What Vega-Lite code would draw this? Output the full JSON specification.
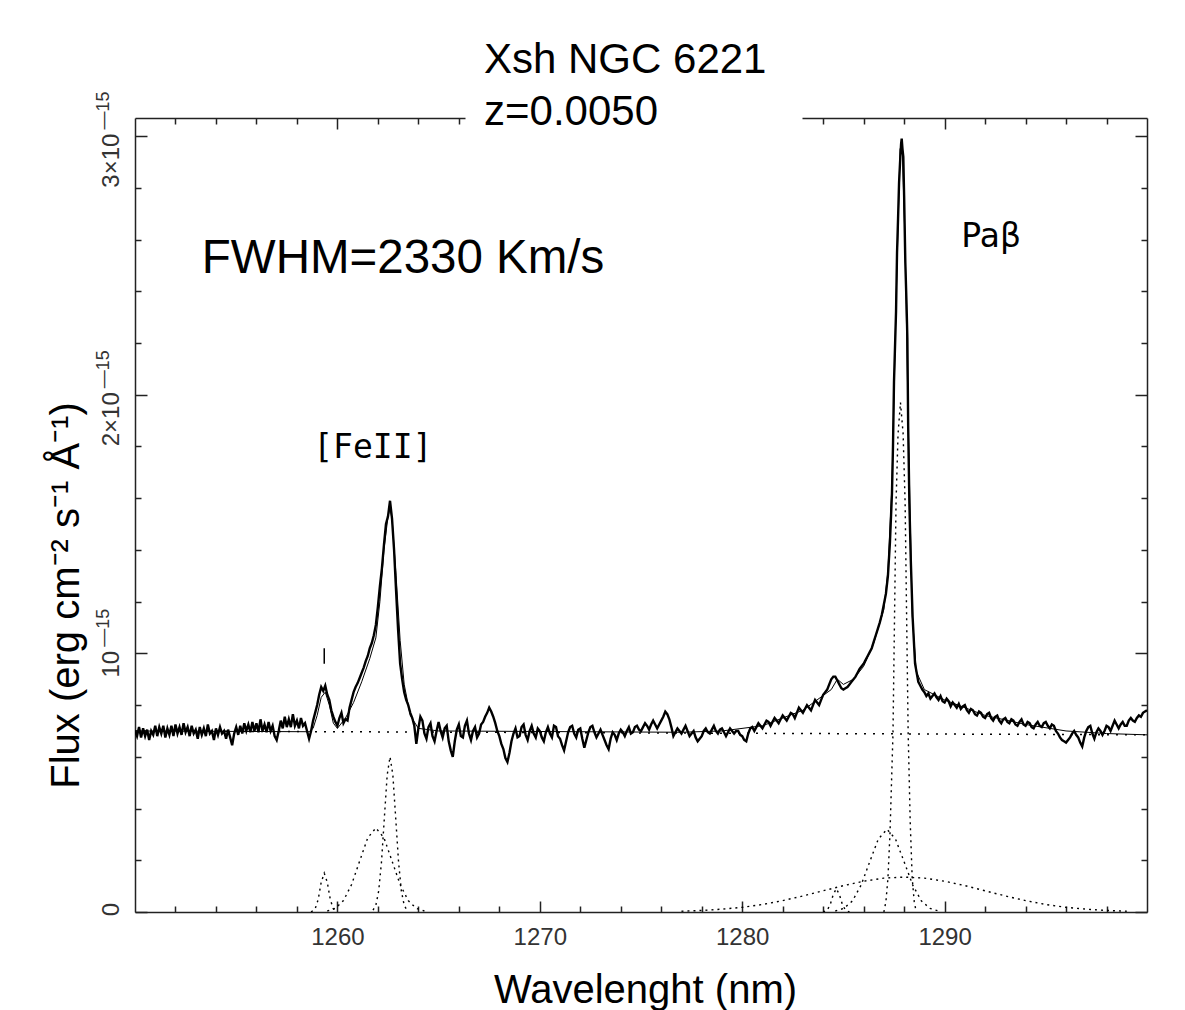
{
  "$schema": "https://vega.github.io/schema/vega-lite/v6.json",
  "width": 1012,
  "height": 794,
  "autosize": {"type": "none"},
  "padding": {"left": 135, "top": 118, "right": 38, "bottom": 98},
  "background": "white",
  "title": {"text": ["Xsh NGC 6221", "z=0.0050"], "anchor": "start", "frame": "group", "dx": 349, "dy": 43, "offset": 0, "font": "Liberation Sans", "fontSize": 42, "fontWeight": "normal", "color": "black", "lineHeight": 52},
  "config": {
    "view": {"stroke": null},
    "axis": {"grid": false, "domainColor": "#222", "tickColor": "#222", "domainWidth": 1.5, "tickWidth": 1.5, "labelFont": "Liberation Sans", "labelFontSize": 24, "labelColor": "#333", "labelFlush": false, "labelOverlap": false, "labelBound": false}
  },
  "datasets": {
    "spectrum": [
      {"w":1250.0,"f":0.70},{"w":1250.1,"f":0.68},{"w":1250.2,"f":0.715},{"w":1250.3,"f":0.675},{"w":1250.4,"f":0.71},{"w":1250.5,"f":0.68},{"w":1250.6,"f":0.705},{"w":1250.7,"f":0.665},{"w":1250.8,"f":0.70},{"w":1250.9,"f":0.685},
      {"w":1251.0,"f":0.72},{"w":1251.1,"f":0.68},{"w":1251.2,"f":0.715},{"w":1251.3,"f":0.69},{"w":1251.4,"f":0.72},{"w":1251.5,"f":0.675},{"w":1251.6,"f":0.71},{"w":1251.7,"f":0.685},{"w":1251.8,"f":0.72},{"w":1251.9,"f":0.68},
      {"w":1252.0,"f":0.725},{"w":1252.1,"f":0.69},{"w":1252.2,"f":0.715},{"w":1252.3,"f":0.685},{"w":1252.4,"f":0.73},{"w":1252.5,"f":0.695},{"w":1252.6,"f":0.715},{"w":1252.7,"f":0.68},{"w":1252.8,"f":0.72},{"w":1252.9,"f":0.69},
      {"w":1253.0,"f":0.705},{"w":1253.1,"f":0.67},{"w":1253.2,"f":0.715},{"w":1253.3,"f":0.685},{"w":1253.4,"f":0.71},{"w":1253.5,"f":0.68},{"w":1253.6,"f":0.725},{"w":1253.7,"f":0.69},{"w":1253.8,"f":0.70},{"w":1253.9,"f":0.665},
      {"w":1254.0,"f":0.71},{"w":1254.1,"f":0.685},{"w":1254.2,"f":0.715},{"w":1254.3,"f":0.69},{"w":1254.4,"f":0.70},{"w":1254.5,"f":0.67},{"w":1254.6,"f":0.705},{"w":1254.7,"f":0.675},{"w":1254.8,"f":0.645},{"w":1254.9,"f":0.69},
      {"w":1255.0,"f":0.715},{"w":1255.1,"f":0.685},{"w":1255.2,"f":0.72},{"w":1255.3,"f":0.69},{"w":1255.4,"f":0.73},{"w":1255.5,"f":0.70},{"w":1255.6,"f":0.725},{"w":1255.7,"f":0.695},{"w":1255.8,"f":0.735},{"w":1255.9,"f":0.70},
      {"w":1256.0,"f":0.73},{"w":1256.1,"f":0.695},{"w":1256.2,"f":0.745},{"w":1256.3,"f":0.70},{"w":1256.4,"f":0.725},{"w":1256.5,"f":0.695},{"w":1256.6,"f":0.735},{"w":1256.7,"f":0.70},{"w":1256.8,"f":0.72},{"w":1256.9,"f":0.68},
      {"w":1257.0,"f":0.665},{"w":1257.1,"f":0.70},{"w":1257.2,"f":0.74},{"w":1257.3,"f":0.71},{"w":1257.4,"f":0.755},{"w":1257.5,"f":0.715},{"w":1257.6,"f":0.745},{"w":1257.7,"f":0.715},{"w":1257.8,"f":0.765},{"w":1257.9,"f":0.72},
      {"w":1258.0,"f":0.74},{"w":1258.1,"f":0.71},{"w":1258.2,"f":0.75},{"w":1258.3,"f":0.72},{"w":1258.4,"f":0.73},{"w":1258.5,"f":0.70},{"w":1258.6,"f":0.67},{"w":1258.7,"f":0.70},{"w":1258.8,"f":0.74},{"w":1258.9,"f":0.77},
      {"w":1259.0,"f":0.80},{"w":1259.1,"f":0.84},{"w":1259.2,"f":0.87},{"w":1259.3,"f":0.855},{"w":1259.4,"f":0.875},{"w":1259.5,"f":0.84},{"w":1259.6,"f":0.82},{"w":1259.7,"f":0.78},{"w":1259.8,"f":0.755},{"w":1259.9,"f":0.735},
      {"w":1260.0,"f":0.72},{"w":1260.1,"f":0.75},{"w":1260.2,"f":0.77},{"w":1260.3,"f":0.73},{"w":1260.4,"f":0.745},{"w":1260.5,"f":0.74},{"w":1260.6,"f":0.79},{"w":1260.7,"f":0.82},{"w":1260.8,"f":0.85},{"w":1260.9,"f":0.87},
      {"w":1261.0,"f":0.885},{"w":1261.1,"f":0.905},{"w":1261.2,"f":0.925},{"w":1261.3,"f":0.945},{"w":1261.4,"f":0.97},{"w":1261.5,"f":0.99},{"w":1261.6,"f":1.02},{"w":1261.7,"f":1.04},{"w":1261.8,"f":1.07},{"w":1261.9,"f":1.11},
      {"w":1262.0,"f":1.18},{"w":1262.1,"f":1.26},{"w":1262.2,"f":1.33},{"w":1262.3,"f":1.42},{"w":1262.4,"f":1.50},{"w":1262.5,"f":1.53},{"w":1262.6,"f":1.59},{"w":1262.7,"f":1.52},{"w":1262.8,"f":1.40},{"w":1262.9,"f":1.24},
      {"w":1263.0,"f":1.09},{"w":1263.1,"f":0.96},{"w":1263.2,"f":0.90},{"w":1263.3,"f":0.85},{"w":1263.4,"f":0.82},{"w":1263.5,"f":0.80},{"w":1263.6,"f":0.77},{"w":1263.7,"f":0.75},{"w":1263.8,"f":0.72},{"w":1263.9,"f":0.65},
      {"w":1264.0,"f":0.71},{"w":1264.1,"f":0.755},{"w":1264.2,"f":0.74},{"w":1264.3,"f":0.69},{"w":1264.4,"f":0.67},{"w":1264.5,"f":0.715},{"w":1264.6,"f":0.73},{"w":1264.7,"f":0.68},{"w":1264.8,"f":0.66},{"w":1264.9,"f":0.70},
      {"w":1265.0,"f":0.735},{"w":1265.1,"f":0.70},{"w":1265.2,"f":0.675},{"w":1265.3,"f":0.71},{"w":1265.4,"f":0.72},{"w":1265.5,"f":0.66},{"w":1265.6,"f":0.625},{"w":1265.7,"f":0.60},{"w":1265.8,"f":0.66},{"w":1265.9,"f":0.705},
      {"w":1266.0,"f":0.725},{"w":1266.1,"f":0.68},{"w":1266.2,"f":0.675},{"w":1266.3,"f":0.72},{"w":1266.4,"f":0.74},{"w":1266.5,"f":0.69},{"w":1266.6,"f":0.665},{"w":1266.7,"f":0.70},{"w":1266.8,"f":0.715},{"w":1266.9,"f":0.675},
      {"w":1267.0,"f":0.69},{"w":1267.1,"f":0.725},{"w":1267.2,"f":0.735},{"w":1267.3,"f":0.755},{"w":1267.4,"f":0.77},{"w":1267.5,"f":0.79},{"w":1267.6,"f":0.775},{"w":1267.7,"f":0.755},{"w":1267.8,"f":0.73},{"w":1267.9,"f":0.70},
      {"w":1268.0,"f":0.68},{"w":1268.1,"f":0.65},{"w":1268.2,"f":0.63},{"w":1268.3,"f":0.595},{"w":1268.4,"f":0.58},{"w":1268.5,"f":0.615},{"w":1268.6,"f":0.66},{"w":1268.7,"f":0.69},{"w":1268.8,"f":0.71},{"w":1268.9,"f":0.675},
      {"w":1269.0,"f":0.68},{"w":1269.1,"f":0.715},{"w":1269.2,"f":0.725},{"w":1269.3,"f":0.685},{"w":1269.4,"f":0.665},{"w":1269.5,"f":0.70},{"w":1269.6,"f":0.72},{"w":1269.7,"f":0.69},{"w":1269.8,"f":0.675},{"w":1269.9,"f":0.71},
      {"w":1270.0,"f":0.70},{"w":1270.1,"f":0.675},{"w":1270.2,"f":0.66},{"w":1270.3,"f":0.695},{"w":1270.4,"f":0.715},{"w":1270.5,"f":0.69},{"w":1270.6,"f":0.675},{"w":1270.7,"f":0.72},{"w":1270.8,"f":0.715},{"w":1270.9,"f":0.68},
      {"w":1271.0,"f":0.67},{"w":1271.1,"f":0.645},{"w":1271.2,"f":0.625},{"w":1271.3,"f":0.66},{"w":1271.4,"f":0.695},{"w":1271.5,"f":0.715},{"w":1271.6,"f":0.72},{"w":1271.7,"f":0.69},{"w":1271.8,"f":0.675},{"w":1271.9,"f":0.705},
      {"w":1272.0,"f":0.71},{"w":1272.1,"f":0.67},{"w":1272.2,"f":0.635},{"w":1272.3,"f":0.665},{"w":1272.4,"f":0.695},{"w":1272.5,"f":0.715},{"w":1272.6,"f":0.72},{"w":1272.7,"f":0.695},{"w":1272.8,"f":0.675},{"w":1272.9,"f":0.69},
      {"w":1273.0,"f":0.705},{"w":1273.1,"f":0.685},{"w":1273.2,"f":0.665},{"w":1273.3,"f":0.645},{"w":1273.4,"f":0.63},{"w":1273.5,"f":0.67},{"w":1273.6,"f":0.695},{"w":1273.7,"f":0.685},{"w":1273.8,"f":0.665},{"w":1273.9,"f":0.69},
      {"w":1274.0,"f":0.705},{"w":1274.1,"f":0.695},{"w":1274.2,"f":0.68},{"w":1274.3,"f":0.70},{"w":1274.4,"f":0.715},{"w":1274.5,"f":0.69},{"w":1274.6,"f":0.695},{"w":1274.7,"f":0.715},{"w":1274.8,"f":0.72},{"w":1274.9,"f":0.705},
      {"w":1275.0,"f":0.70},{"w":1275.1,"f":0.715},{"w":1275.2,"f":0.73},{"w":1275.3,"f":0.72},{"w":1275.4,"f":0.705},{"w":1275.5,"f":0.725},{"w":1275.6,"f":0.74},{"w":1275.7,"f":0.725},{"w":1275.8,"f":0.71},{"w":1275.9,"f":0.725},
      {"w":1276.0,"f":0.74},{"w":1276.1,"f":0.755},{"w":1276.2,"f":0.775},{"w":1276.3,"f":0.765},{"w":1276.4,"f":0.745},{"w":1276.5,"f":0.715},{"w":1276.6,"f":0.68},{"w":1276.7,"f":0.695},{"w":1276.8,"f":0.71},{"w":1276.9,"f":0.70},
      {"w":1277.0,"f":0.69},{"w":1277.1,"f":0.705},{"w":1277.2,"f":0.72},{"w":1277.3,"f":0.70},{"w":1277.4,"f":0.68},{"w":1277.5,"f":0.69},{"w":1277.6,"f":0.70},{"w":1277.7,"f":0.675},{"w":1277.8,"f":0.66},{"w":1277.9,"f":0.67},
      {"w":1278.0,"f":0.68},{"w":1278.1,"f":0.70},{"w":1278.2,"f":0.71},{"w":1278.3,"f":0.695},{"w":1278.4,"f":0.69},{"w":1278.5,"f":0.705},{"w":1278.6,"f":0.72},{"w":1278.7,"f":0.70},{"w":1278.8,"f":0.69},{"w":1278.9,"f":0.705},
      {"w":1279.0,"f":0.71},{"w":1279.1,"f":0.695},{"w":1279.2,"f":0.68},{"w":1279.3,"f":0.695},{"w":1279.4,"f":0.71},{"w":1279.5,"f":0.70},{"w":1279.6,"f":0.69},{"w":1279.7,"f":0.70},{"w":1279.8,"f":0.70},{"w":1279.9,"f":0.685},
      {"w":1280.0,"f":0.68},{"w":1280.1,"f":0.665},{"w":1280.2,"f":0.66},{"w":1280.3,"f":0.69},{"w":1280.4,"f":0.71},{"w":1280.5,"f":0.715},{"w":1280.6,"f":0.70},{"w":1280.7,"f":0.715},{"w":1280.8,"f":0.73},{"w":1280.9,"f":0.72},
      {"w":1281.0,"f":0.71},{"w":1281.1,"f":0.725},{"w":1281.2,"f":0.74},{"w":1281.3,"f":0.735},{"w":1281.4,"f":0.72},{"w":1281.5,"f":0.735},{"w":1281.6,"f":0.75},{"w":1281.7,"f":0.74},{"w":1281.8,"f":0.73},{"w":1281.9,"f":0.745},
      {"w":1282.0,"f":0.76},{"w":1282.1,"f":0.75},{"w":1282.2,"f":0.74},{"w":1282.3,"f":0.755},{"w":1282.4,"f":0.77},{"w":1282.5,"f":0.765},{"w":1282.6,"f":0.75},{"w":1282.7,"f":0.77},{"w":1282.8,"f":0.79},{"w":1282.9,"f":0.78},
      {"w":1283.0,"f":0.77},{"w":1283.1,"f":0.785},{"w":1283.2,"f":0.80},{"w":1283.3,"f":0.79},{"w":1283.4,"f":0.78},{"w":1283.5,"f":0.80},{"w":1283.6,"f":0.82},{"w":1283.7,"f":0.81},{"w":1283.8,"f":0.80},{"w":1283.9,"f":0.82},
      {"w":1284.0,"f":0.84},{"w":1284.1,"f":0.85},{"w":1284.2,"f":0.86},{"w":1284.3,"f":0.88},{"w":1284.4,"f":0.90},{"w":1284.5,"f":0.91},{"w":1284.6,"f":0.91},{"w":1284.7,"f":0.895},{"w":1284.8,"f":0.88},{"w":1284.9,"f":0.865},
      {"w":1285.0,"f":0.86},{"w":1285.1,"f":0.865},{"w":1285.2,"f":0.87},{"w":1285.3,"f":0.88},{"w":1285.4,"f":0.89},{"w":1285.5,"f":0.90},{"w":1285.6,"f":0.91},{"w":1285.7,"f":0.925},{"w":1285.8,"f":0.94},{"w":1285.9,"f":0.95},
      {"w":1286.0,"f":0.96},{"w":1286.1,"f":0.975},{"w":1286.2,"f":0.99},{"w":1286.3,"f":1.005},{"w":1286.4,"f":1.02},{"w":1286.5,"f":1.045},{"w":1286.6,"f":1.07},{"w":1286.7,"f":1.095},{"w":1286.8,"f":1.12},{"w":1286.9,"f":1.15},
      {"w":1287.0,"f":1.19},{"w":1287.1,"f":1.23},{"w":1287.2,"f":1.30},{"w":1287.3,"f":1.43},{"w":1287.4,"f":1.62},
      {"w":1287.45,"f":1.80},{"w":1287.5,"f":2.05},{"w":1287.6,"f":2.32},{"w":1287.65,"f":2.55},{"w":1287.7,"f":2.68},
      {"w":1287.75,"f":2.82},{"w":1287.8,"f":2.90},{"w":1287.85,"f":2.97},{"w":1287.88,"f":2.99},{"w":1287.92,"f":2.95},
      {"w":1287.96,"f":2.92},{"w":1288.0,"f":2.77},{"w":1288.06,"f":2.51},{"w":1288.12,"f":2.35},{"w":1288.16,"f":2.22},
      {"w":1288.2,"f":1.88},{"w":1288.26,"f":1.58},{"w":1288.33,"f":1.36},{"w":1288.42,"f":1.14},{"w":1288.54,"f":0.96},
      {"w":1288.7,"f":0.89},{"w":1288.8,"f":0.875},{"w":1288.9,"f":0.86},
      {"w":1289.0,"f":0.85},{"w":1289.1,"f":0.835},{"w":1289.2,"f":0.845},{"w":1289.3,"f":0.825},{"w":1289.4,"f":0.835},{"w":1289.5,"f":0.845},{"w":1289.6,"f":0.83},{"w":1289.7,"f":0.82},{"w":1289.8,"f":0.835},{"w":1289.9,"f":0.815},
      {"w":1290.0,"f":0.81},{"w":1290.1,"f":0.825},{"w":1290.2,"f":0.815},{"w":1290.3,"f":0.795},{"w":1290.4,"f":0.81},{"w":1290.5,"f":0.80},{"w":1290.6,"f":0.79},{"w":1290.7,"f":0.805},{"w":1290.8,"f":0.785},{"w":1290.9,"f":0.795},
      {"w":1291.0,"f":0.80},{"w":1291.1,"f":0.78},{"w":1291.2,"f":0.77},{"w":1291.3,"f":0.785},{"w":1291.4,"f":0.78},{"w":1291.5,"f":0.765},{"w":1291.6,"f":0.76},{"w":1291.7,"f":0.775},{"w":1291.8,"f":0.77},{"w":1291.9,"f":0.755},
      {"w":1292.0,"f":0.75},{"w":1292.1,"f":0.765},{"w":1292.2,"f":0.77},{"w":1292.3,"f":0.75},{"w":1292.4,"f":0.74},{"w":1292.5,"f":0.755},{"w":1292.6,"f":0.76},{"w":1292.7,"f":0.74},{"w":1292.8,"f":0.73},{"w":1292.9,"f":0.745},
      {"w":1293.0,"f":0.75},{"w":1293.1,"f":0.735},{"w":1293.2,"f":0.73},{"w":1293.3,"f":0.745},{"w":1293.4,"f":0.74},{"w":1293.5,"f":0.725},{"w":1293.6,"f":0.72},{"w":1293.7,"f":0.735},{"w":1293.8,"f":0.745},{"w":1293.9,"f":0.725},
      {"w":1294.0,"f":0.72},{"w":1294.1,"f":0.735},{"w":1294.2,"f":0.73},{"w":1294.3,"f":0.715},{"w":1294.4,"f":0.71},{"w":1294.5,"f":0.725},{"w":1294.6,"f":0.735},{"w":1294.7,"f":0.72},{"w":1294.8,"f":0.715},{"w":1294.9,"f":0.73},
      {"w":1295.0,"f":0.735},{"w":1295.1,"f":0.72},{"w":1295.2,"f":0.71},{"w":1295.3,"f":0.725},{"w":1295.4,"f":0.72},{"w":1295.5,"f":0.70},{"w":1295.6,"f":0.69},{"w":1295.7,"f":0.675},{"w":1295.8,"f":0.665},{"w":1295.9,"f":0.66},
      {"w":1296.0,"f":0.655},{"w":1296.1,"f":0.665},{"w":1296.2,"f":0.675},{"w":1296.3,"f":0.69},{"w":1296.4,"f":0.70},{"w":1296.5,"f":0.685},{"w":1296.6,"f":0.675},{"w":1296.7,"f":0.655},{"w":1296.8,"f":0.64},{"w":1296.9,"f":0.675},
      {"w":1297.0,"f":0.70},{"w":1297.1,"f":0.715},{"w":1297.2,"f":0.72},{"w":1297.3,"f":0.69},{"w":1297.4,"f":0.67},{"w":1297.5,"f":0.695},{"w":1297.6,"f":0.71},{"w":1297.7,"f":0.70},{"w":1297.8,"f":0.685},{"w":1297.9,"f":0.70},
      {"w":1298.0,"f":0.72},{"w":1298.1,"f":0.715},{"w":1298.2,"f":0.70},{"w":1298.3,"f":0.72},{"w":1298.4,"f":0.74},{"w":1298.5,"f":0.725},{"w":1298.6,"f":0.71},{"w":1298.7,"f":0.725},{"w":1298.8,"f":0.735},{"w":1298.9,"f":0.72},
      {"w":1299.0,"f":0.72},{"w":1299.1,"f":0.74},{"w":1299.2,"f":0.75},{"w":1299.3,"f":0.74},{"w":1299.4,"f":0.735},{"w":1299.5,"f":0.75},{"w":1299.6,"f":0.76},{"w":1299.7,"f":0.755},{"w":1299.8,"f":0.77},{"w":1299.9,"f":0.775},
      {"w":1300.0,"f":0.78}
    ],
    "model": [
      {"w":1250.0,"f":0.70},{"w":1258.6,"f":0.697},{"w":1258.8,"f":0.71},{"w":1259.0,"f":0.76},{"w":1259.2,"f":0.83},
      {"w":1259.4,"f":0.85},{"w":1259.6,"f":0.80},{"w":1259.8,"f":0.73},{"w":1260.0,"f":0.71},{"w":1260.4,"f":0.75},
      {"w":1260.8,"f":0.81},{"w":1261.2,"f":0.89},{"w":1261.6,"f":0.98},{"w":1261.9,"f":1.06},{"w":1262.1,"f":1.20},
      {"w":1262.3,"f":1.40},{"w":1262.5,"f":1.53},{"w":1262.6,"f":1.56},{"w":1262.7,"f":1.52},{"w":1262.9,"f":1.30},
      {"w":1263.1,"f":1.05},{"w":1263.3,"f":0.88},{"w":1263.6,"f":0.76},{"w":1264.0,"f":0.71},{"w":1265.0,"f":0.70},
      {"w":1277.0,"f":0.695},{"w":1279.0,"f":0.70},{"w":1281.0,"f":0.72},{"w":1283.0,"f":0.78},{"w":1284.4,"f":0.86},
      {"w":1284.7,"f":0.90},{"w":1285.0,"f":0.88},{"w":1285.5,"f":0.90},{"w":1286.0,"f":0.95},{"w":1286.5,"f":1.04},
      {"w":1287.0,"f":1.17},{"w":1287.2,"f":1.32},{"w":1287.4,"f":1.65},{"w":1287.6,"f":2.35},{"w":1287.8,"f":2.95},
      {"w":1287.9,"f":2.97},{"w":1288.05,"f":2.58},{"w":1288.2,"f":1.90},{"w":1288.4,"f":1.15},{"w":1288.6,"f":0.93},
      {"w":1289.0,"f":0.86},{"w":1290.0,"f":0.82},{"w":1292.0,"f":0.76},{"w":1294.0,"f":0.725},{"w":1296.0,"f":0.70},
      {"w":1298.0,"f":0.69},{"w":1300.0,"f":0.685}
    ],
    "continuum": [
      {"w":1250.0,"f":0.70},{"w":1300.0,"f":0.685}
    ],
    "components": [
      {"c":"FeII-a","w":1258.7,"f":0.0},{"c":"FeII-a","w":1258.9,"f":0.012},{"c":"FeII-a","w":1259.05,"f":0.048},{"c":"FeII-a","w":1259.2,"f":0.115},{"c":"FeII-a","w":1259.35,"f":0.15},{"c":"FeII-a","w":1259.5,"f":0.115},{"c":"FeII-a","w":1259.65,"f":0.048},{"c":"FeII-a","w":1259.8,"f":0.012},{"c":"FeII-a","w":1260.0,"f":0.0},
      {"c":"FeII-b","w":1259.5,"f":0.004},{"c":"FeII-b","w":1259.9,"f":0.014},{"c":"FeII-b","w":1260.3,"f":0.044},{"c":"FeII-b","w":1260.7,"f":0.106},{"c":"FeII-b","w":1261.1,"f":0.197},{"c":"FeII-b","w":1261.5,"f":0.287},{"c":"FeII-b","w":1261.9,"f":0.325},{"c":"FeII-b","w":1262.3,"f":0.287},{"c":"FeII-b","w":1262.7,"f":0.197},{"c":"FeII-b","w":1263.1,"f":0.106},{"c":"FeII-b","w":1263.5,"f":0.044},{"c":"FeII-b","w":1263.9,"f":0.014},{"c":"FeII-b","w":1264.3,"f":0.004},
      {"c":"FeII-c","w":1261.76,"f":0.007},{"c":"FeII-c","w":1261.9,"f":0.026},{"c":"FeII-c","w":1262.04,"f":0.081},{"c":"FeII-c","w":1262.18,"f":0.195},{"c":"FeII-c","w":1262.32,"f":0.364},{"c":"FeII-c","w":1262.46,"f":0.53},{"c":"FeII-c","w":1262.6,"f":0.60},{"c":"FeII-c","w":1262.74,"f":0.53},{"c":"FeII-c","w":1262.88,"f":0.364},{"c":"FeII-c","w":1263.02,"f":0.195},{"c":"FeII-c","w":1263.16,"f":0.081},{"c":"FeII-c","w":1263.3,"f":0.026},{"c":"FeII-c","w":1263.44,"f":0.007},
      {"c":"Pab-a","w":1284.0,"f":0.0},{"c":"Pab-a","w":1284.2,"f":0.007},{"c":"Pab-a","w":1284.35,"f":0.029},{"c":"Pab-a","w":1284.5,"f":0.068},{"c":"Pab-a","w":1284.65,"f":0.09},{"c":"Pab-a","w":1284.8,"f":0.068},{"c":"Pab-a","w":1284.95,"f":0.029},{"c":"Pab-a","w":1285.1,"f":0.007},{"c":"Pab-a","w":1285.3,"f":0.0},
      {"c":"Pab-b","w":1284.6,"f":0.004},{"c":"Pab-b","w":1285.025,"f":0.014},{"c":"Pab-b","w":1285.45,"f":0.043},{"c":"Pab-b","w":1285.875,"f":0.104},{"c":"Pab-b","w":1286.3,"f":0.194},{"c":"Pab-b","w":1286.725,"f":0.282},{"c":"Pab-b","w":1287.15,"f":0.32},{"c":"Pab-b","w":1287.575,"f":0.282},{"c":"Pab-b","w":1288.0,"f":0.194},{"c":"Pab-b","w":1288.425,"f":0.104},{"c":"Pab-b","w":1288.85,"f":0.043},{"c":"Pab-b","w":1289.275,"f":0.014},{"c":"Pab-b","w":1289.7,"f":0.004},
      {"c":"Pab-c","w":1287.0,"f":0.0},{"c":"Pab-c","w":1287.1,"f":0.04},{"c":"Pab-c","w":1287.2,"f":0.13},{"c":"Pab-c","w":1287.3,"f":0.30},{"c":"Pab-c","w":1287.45,"f":0.69},{"c":"Pab-c","w":1287.6,"f":1.58},{"c":"Pab-c","w":1287.7,"f":1.85},{"c":"Pab-c","w":1287.82,"f":1.97},{"c":"Pab-c","w":1287.95,"f":1.85},{"c":"Pab-c","w":1288.05,"f":1.58},{"c":"Pab-c","w":1288.2,"f":0.69},{"c":"Pab-c","w":1288.3,"f":0.35},{"c":"Pab-c","w":1288.4,"f":0.13},{"c":"Pab-c","w":1288.5,"f":0.04},{"c":"Pab-c","w":1288.6,"f":0.0},
      {"c":"Pab-d","w":1277.0,"f":0.003},{"c":"Pab-d","w":1278.0,"f":0.006},{"c":"Pab-d","w":1279.0,"f":0.011},{"c":"Pab-d","w":1280.0,"f":0.018},{"c":"Pab-d","w":1281.0,"f":0.029},{"c":"Pab-d","w":1282.0,"f":0.044},{"c":"Pab-d","w":1283.0,"f":0.062},{"c":"Pab-d","w":1284.0,"f":0.082},{"c":"Pab-d","w":1285.0,"f":0.102},{"c":"Pab-d","w":1286.0,"f":0.119},{"c":"Pab-d","w":1287.0,"f":0.131},{"c":"Pab-d","w":1288.0,"f":0.135},{"c":"Pab-d","w":1289.0,"f":0.131},{"c":"Pab-d","w":1290.0,"f":0.119},{"c":"Pab-d","w":1291.0,"f":0.102},{"c":"Pab-d","w":1292.0,"f":0.082},{"c":"Pab-d","w":1293.0,"f":0.062},{"c":"Pab-d","w":1294.0,"f":0.044},{"c":"Pab-d","w":1295.0,"f":0.029},{"c":"Pab-d","w":1296.0,"f":0.018},{"c":"Pab-d","w":1297.0,"f":0.011},{"c":"Pab-d","w":1298.0,"f":0.006},{"c":"Pab-d","w":1299.0,"f":0.003}
    ]
  },
  "resolve": {"axis": {"x": "independent", "y": "independent"}},
  "layer": [
    {
      "data": {"name": "spectrum"},
      "mark": {"type": "line", "color": "black", "strokeWidth": 2.4, "clip": true},
      "encoding": {
        "x": {"field": "w", "type": "quantitative", "scale": {"domain": [1250, 1300], "nice": false, "zero": false},
          "axis": {"orient": "bottom", "values": [1260, 1270, 1280, 1290], "format": "d", "tickSize": -11, "labelPadding": 24, "domain": true,
            "title": "Wavelenght (nm)", "titleFont": "Liberation Sans", "titleFontSize": 40, "titleFontWeight": "normal", "titleColor": "black",
            "titleX": 510, "titleY": 90, "titleAlign": "center", "titleBaseline": "alphabetic"}},
        "y": {"field": "f", "type": "quantitative", "scale": {"domain": [0, 3.07], "nice": false, "zero": false},
          "axis": {"orient": "left", "values": [0, 1, 2, 3], "tickSize": -12, "labelPadding": 29, "labelAngle": -90,
            "labelAlign": {"condition": {"test": "datum.value == 0", "value": "center"}, "value": "right"},
            "labelBaseline": "alphabetic", "labelFontSize": 24, "labelOffset": -3,
            "labelExpr": "datum.value == 0 ? '0' : (datum.value == 1 ? '10' : datum.value + '×10')",
            "domain": true, "title": "Flux (erg cm⁻² s⁻¹ Å⁻¹)", "titleFont": "Liberation Sans", "titleFontSize": 40, "titleFontWeight": "normal", "titleColor": "black",
            "titleX": -57, "titleY": 477, "titleAngle": -90, "titleAlign": "center", "titleBaseline": "alphabetic"}}
      }
    },
    {
      "data": {"name": "model"},
      "mark": {"type": "line", "color": "black", "strokeWidth": 1, "clip": true},
      "encoding": {
        "x": {"field": "w", "type": "quantitative", "scale": {"domain": [1250, 1300], "nice": false, "zero": false},
          "axis": {"orient": "bottom", "values": [1252, 1254, 1256, 1258, 1262, 1264, 1266, 1268, 1272, 1274, 1276, 1278, 1282, 1284, 1286, 1288, 1292, 1294, 1296, 1298], "tickSize": -6, "labels": false, "domain": false, "title": null}},
        "y": {"field": "f", "type": "quantitative", "scale": {"domain": [0, 3.07], "nice": false, "zero": false},
          "axis": {"orient": "left", "values": [0.2, 0.4, 0.6, 0.8, 1.2, 1.4, 1.6, 1.8, 2.2, 2.4, 2.6, 2.8], "tickSize": -6, "labels": false, "domain": false, "title": null}}
      }
    },
    {
      "data": {"name": "continuum"},
      "mark": {"type": "line", "color": "black", "strokeWidth": 1.5, "strokeDash": [2, 7], "clip": true},
      "encoding": {
        "x": {"field": "w", "type": "quantitative", "scale": {"domain": [1250, 1300], "nice": false, "zero": false},
          "axis": {"orient": "top", "values": [1260, 1290], "tickSize": -11, "labels": false, "domain": true, "domainDash": [330, 337, 345], "title": null}},
        "y": {"field": "f", "type": "quantitative", "scale": {"domain": [0, 3.07], "nice": false, "zero": false},
          "axis": {"orient": "right", "values": [0, 1, 2, 3], "tickSize": -12, "labels": false, "domain": true, "title": null}}
      }
    },
    {
      "data": {"name": "components"},
      "mark": {"type": "line", "color": "black", "strokeWidth": 1.4, "strokeDash": [2, 4], "clip": true},
      "encoding": {
        "x": {"field": "w", "type": "quantitative", "scale": {"domain": [1250, 1300], "nice": false, "zero": false},
          "axis": {"orient": "top", "values": [1252, 1254, 1256, 1258, 1262, 1264, 1266, 1284, 1286, 1288, 1292, 1294, 1296, 1298], "tickSize": -6, "labels": false, "domain": false, "title": null}},
        "y": {"field": "f", "type": "quantitative", "scale": {"domain": [0, 3.07], "nice": false, "zero": false},
          "axis": {"orient": "right", "values": [0.2, 0.4, 0.6, 0.8, 1.2, 1.4, 1.6, 1.8, 2.2, 2.4, 2.6, 2.8], "tickSize": -6, "labels": false, "domain": false, "title": null}},
        "detail": {"field": "c", "type": "nominal"}
      }
    },
    {
      "data": {"values": [{"w": 1259.35, "lo": 0.96, "hi": 1.02}]},
      "mark": {"type": "rule", "color": "black", "strokeWidth": 1.5},
      "encoding": {
        "x": {"field": "w", "type": "quantitative", "axis": null},
        "y": {"field": "lo", "type": "quantitative", "axis": null},
        "y2": {"field": "hi"}
      }
    },
    {
      "data": {"values": [{"label": "FWHM=2330 Km/s", "w": 1253.3, "f": 2.47}]},
      "mark": {"type": "text", "font": "Liberation Sans", "fontSize": 47.5, "align": "left", "baseline": "alphabetic", "color": "black"},
      "encoding": {
        "x": {"field": "w", "type": "quantitative", "axis": null},
        "y": {"field": "f", "type": "quantitative", "scale": {"domain": [0, 3.07], "nice": false, "zero": false},
          "axis": {"orient": "left", "values": [1, 2, 3], "ticks": false, "domain": false, "labelPadding": 27, "labelAngle": -90, "labelAlign": "left", "labelBaseline": "alphabetic",
            "labelOffset": -7, "labelFontSize": 18, "labelExpr": "'—15'", "title": null}},
        "text": {"field": "label"}
      }
    },
    {
      "data": {"values": [{"label": "[FeII]", "w": 1261.75, "f": 1.755}]},
      "mark": {"type": "text", "font": "DejaVu Sans Mono", "fontSize": 33, "align": "center", "baseline": "alphabetic", "color": "black"},
      "encoding": {
        "x": {"field": "w", "type": "quantitative", "axis": null},
        "y": {"field": "f", "type": "quantitative", "axis": null},
        "text": {"field": "label"}
      }
    },
    {
      "data": {"values": [{"label": "Paβ", "w": 1292.3, "f": 2.57}]},
      "mark": {"type": "text", "font": "DejaVu Sans", "fontSize": 33, "align": "center", "baseline": "alphabetic", "color": "black"},
      "encoding": {
        "x": {"field": "w", "type": "quantitative", "axis": null},
        "y": {"field": "f", "type": "quantitative", "axis": null},
        "text": {"field": "label"}
      }
    }
  ]
}
